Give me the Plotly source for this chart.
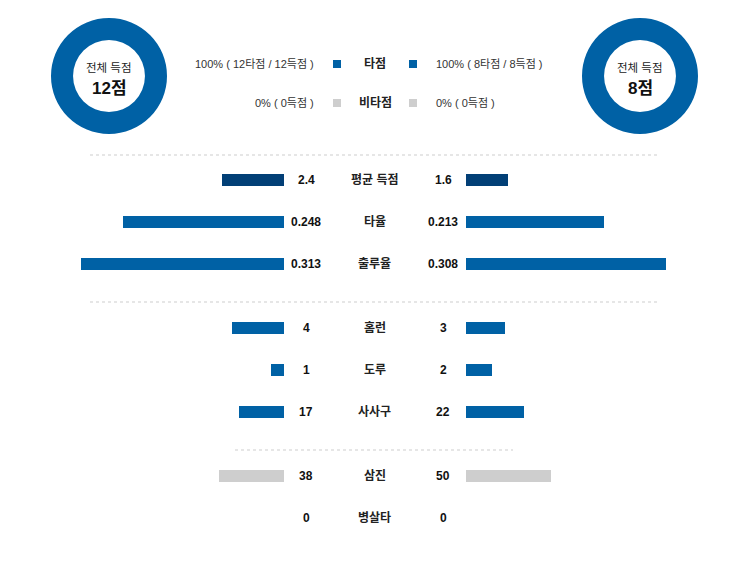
import plotly.graph_objects as go

# ---------------- data ----------------
stat_labels = ["평균 득점", "타율", "출루율", "홈런", "도루", "사사구", "삼진", "병살타"]
home_values = [2.4, 0.248, 0.313, 4, 1, 17, 38, 0]
away_values = [1.6, 0.213, 0.308, 3, 2, 22, 50, 0]
home_text = ["2.4", "0.248", "0.313", "4", "1", "17", "38", "0"]
away_text = ["1.6", "0.213", "0.308", "3", "2", "22", "50", "0"]
# value that spans one full bar unit for each row
row_scale = [7.7, 0.3085, 0.3085, 15.4, 15.4, 76.3, 117.6, 10]

home_total = 12
away_total = 8
home_rbi_runs = [12, 0]   # 타점 / 비타점
away_rbi_runs = [8, 0]
legend_labels = ["타점", "비타점"]
home_legend_text = ["100% ( 12타점 / 12득점 )", "0% ( 0득점 )"]
away_legend_text = ["100% ( 8타점 / 8득점 )", "0% ( 0득점 )"]

# ---------------- style / layout ----------------
W, H = 749, 570
BLUE = "#0061a5"
NAVY = "#023f76"
GRAY = "#cecece"
row_colors = [NAVY, BLUE, BLUE, BLUE, BLUE, BLUE, GRAY, GRAY]
row_y = [180, 222, 264, 328, 370, 412, 476, 518]
FONT = "Liberation Sans, Arial, 'Noto Sans CJK KR', sans-serif"
UNIT_PX = 200.0
LEFT_END, RIGHT_START = 284, 466

fig = go.Figure()

home_norm = [v / s for v, s in zip(home_values, row_scale)]
away_norm = [v / s for v, s in zip(away_values, row_scale)]

fig.add_trace(go.Bar(x=home_norm, y=row_y, orientation="h", width=12,
                     marker=dict(color=row_colors, line=dict(width=0)),
                     xaxis="x", yaxis="y", hoverinfo="skip", showlegend=False))
fig.add_trace(go.Bar(x=away_norm, y=row_y, orientation="h", width=12,
                     marker=dict(color=row_colors, line=dict(width=0)),
                     xaxis="x2", yaxis="y", hoverinfo="skip", showlegend=False))

# donuts
R = 58
for cx, vals in [(109, home_rbi_runs), (640, away_rbi_runs)]:
    fig.add_trace(go.Pie(values=vals, labels=legend_labels, hole=0.62, sort=False,
                         direction="clockwise", textinfo="none", hoverinfo="skip",
                         marker=dict(colors=[BLUE, GRAY], line=dict(width=0)),
                         domain=dict(x=[(cx - R) / W, (cx + R) / W],
                                     y=[1 - (76 + R) / H, 1 - (76 - R) / H]),
                         showlegend=False))

annotations = []
for cx, tot in [(109, home_total), (640, away_total)]:
    annotations.append(dict(x=cx / W, y=1 - 68 / H, xref="paper", yref="paper",
                            xanchor="center", yanchor="middle",
                            text="전체 득점", showarrow=False,
                            font=dict(family=FONT, size=11.5, color="#222")))
    annotations.append(dict(x=cx / W, y=1 - 88 / H, xref="paper", yref="paper",
                            xanchor="center", yanchor="middle",
                            text=f"<b>{tot}점</b>", showarrow=False,
                            font=dict(family=FONT, size=17, color="#111")))

# legend rows
shapes = []
legend_y = [64, 103]
legend_colors = [BLUE, GRAY]
for i, ly in enumerate(legend_y):
    annotations.append(dict(x=316 / W, y=ly, xref="paper", yref="y", xanchor="right",
                            text=home_legend_text[i], showarrow=False,
                            font=dict(family=FONT, size=11, color="#333")))
    annotations.append(dict(x=434 / W, y=ly, xref="paper", yref="y", xanchor="left",
                            text=away_legend_text[i], showarrow=False,
                            font=dict(family=FONT, size=11, color="#333")))
    annotations.append(dict(x=375 / W, y=ly, xref="paper", yref="y", xanchor="center",
                            text=f"<b>{legend_labels[i]}</b>", showarrow=False,
                            font=dict(family=FONT, size=12, color="#222")))
    for sx in (337, 413):
        shapes.append(dict(type="rect", xref="paper", yref="y",
                           x0=(sx - 4) / W, x1=(sx + 4) / W, y0=ly - 4, y1=ly + 4,
                           fillcolor=legend_colors[i], line=dict(width=0)))

# stat labels and values
for i, ry in enumerate(row_y):
    annotations.append(dict(x=306 / W, y=ry, xref="paper", yref="y", xanchor="center",
                            text=f"<b>{home_text[i]}</b>", showarrow=False,
                            font=dict(family=FONT, size=12, color="#111")))
    annotations.append(dict(x=443 / W, y=ry, xref="paper", yref="y", xanchor="center",
                            text=f"<b>{away_text[i]}</b>", showarrow=False,
                            font=dict(family=FONT, size=12, color="#111")))
    annotations.append(dict(x=374.5 / W, y=ry, xref="paper", yref="y", xanchor="center",
                            text=f"<b>{stat_labels[i]}</b>", showarrow=False,
                            font=dict(family=FONT, size=12, color="#222")))

# dotted separators
for x0, x1, sy in [(90, 658, 155), (90, 658, 302), (235, 513, 450)]:
    shapes.append(dict(type="line", xref="paper", yref="y", x0=x0 / W, x1=x1 / W,
                       y0=sy, y1=sy, line=dict(color="#e6e6e6", width=2, dash="dot")))

fig.update_layout(
    width=W, height=H, margin=dict(l=0, r=0, t=0, b=0),
    paper_bgcolor="white", plot_bgcolor="white",
    xaxis=dict(domain=[0, LEFT_END / W], range=[LEFT_END / UNIT_PX, 0],
               visible=False, fixedrange=True),
    xaxis2=dict(domain=[RIGHT_START / W, 1], range=[0, (W - RIGHT_START) / UNIT_PX],
                visible=False, fixedrange=True, anchor="y"),
    yaxis=dict(domain=[0, 1], range=[H, 0], visible=False, fixedrange=True),
    annotations=annotations, shapes=shapes, bargap=0,
)

fig.write_html("out.html")
